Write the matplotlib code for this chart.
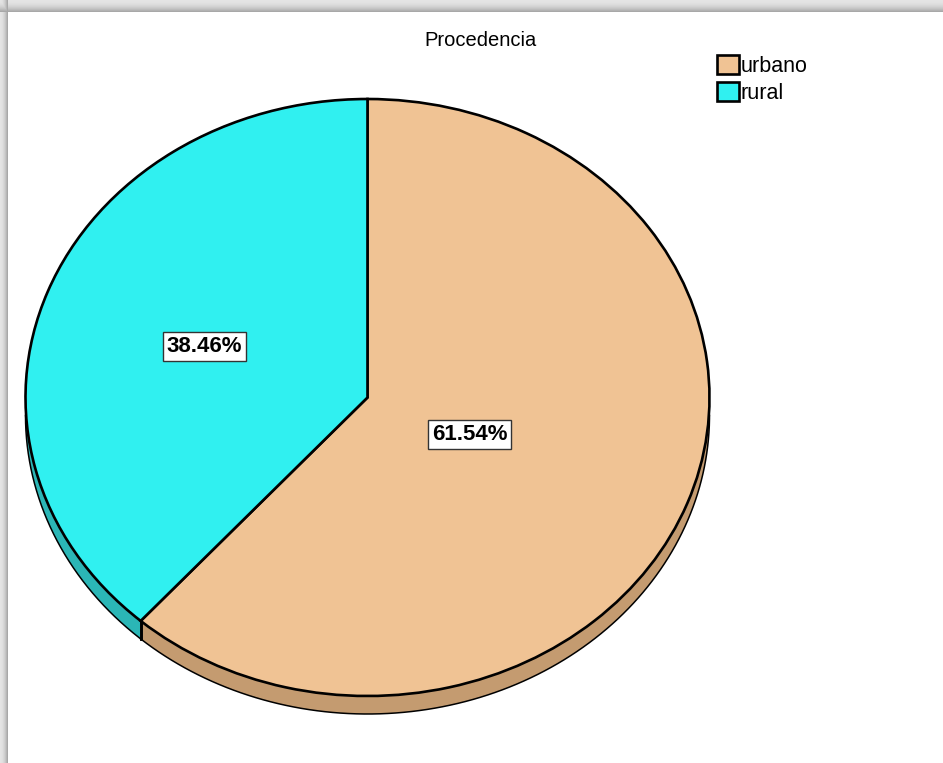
import numpy as np
import matplotlib
matplotlib.use("Agg")
import matplotlib.pyplot as plt
from matplotlib.patches import Polygon

# ---- data ----
categories = ["urbano", "rural"]
values = [61.54, 38.46]
pct_labels = ["61.54%", "38.46%"]
top_colors = ["#F0C394", "#30F0F0"]
side_colors = ["#C49B70", "#2BB6B6"]

W, H = 943, 763
fig = plt.figure(figsize=(W / 100, H / 100), dpi=100)
fig.patch.set_facecolor("white")

# window-like gray shadow border (top and left)
bg = np.ones((H, W, 3))
top_n, left_n = 12, 8
for i in range(top_n):
    v = (228 - (i / (top_n - 1)) ** 2 * 60) / 255
    bg[i, :, :] = v
for j in range(left_n):
    v = (228 - (j / (left_n - 1)) ** 2 * 60) / 255
    bg[:, j, :] = np.minimum(bg[:, j, :], v)
fig.figimage(bg, 0, 0, origin="upper", zorder=-10)

# pie geometry in pixels
cx, cy, rx, ry = 367.5, 397.5, 342.0, 298.5
depth = 18.0 / ry

ax = fig.add_axes([0, 0, 1, 1])
ax.set_zorder(5)
ax.patch.set_visible(False)
wedges, _ = ax.pie(values, colors=top_colors, startangle=90, counterclock=False,
                   wedgeprops=dict(edgecolor="black", linewidth=1.9, zorder=3))
ax.set_aspect("auto")
ax.set_xlim(-cx / rx, (W - cx) / rx)
ax.set_ylim((cy - H) / ry, cy / ry)
ax.axis("off")

# 3D side band (front half)
for w, sc in zip(wedges, side_colors):
    t1, t2 = w.theta1, w.theta2
    for lo, hi in [(-180, 0), (180, 360)]:
        a, b = max(t1, lo), min(t2, hi)
        if b > a:
            t = np.radians(np.linspace(a, b, 200))
            xs = np.cos(t)
            ys = np.sin(t)
            pts = np.concatenate([np.column_stack([xs, ys]),
                                  np.column_stack([xs[::-1], ys[::-1] - depth])])
            ax.add_patch(Polygon(pts, closed=True, facecolor=sc, edgecolor="none", zorder=1))
            ax.plot(xs, ys - depth, color="black", lw=1.1, zorder=2)

# visible vertical edges on the side
for w in wedges:
    for ang in (w.theta1, w.theta2):
        a = ang % 360
        if 180 < a < 360:
            x0, y0 = np.cos(np.radians(a)), np.sin(np.radians(a))
            ax.plot([x0, x0], [y0, y0 - depth], color="black", lw=1.9, zorder=2)

# percentage labels
label_dist = [0.32, 0.51]
for w, lab, d in zip(wedges, pct_labels, label_dist):
    mid = np.radians((w.theta1 + w.theta2) / 2)
    ax.annotate(lab, xy=(d * np.cos(mid), d * np.sin(mid)), xytext=(0, -2.3),
                textcoords="offset points", ha="center", va="center",
                fontsize=16, fontweight="bold", family="Liberation Sans", zorder=5,
                bbox=dict(boxstyle="square,pad=0.17", facecolor="white",
                          edgecolor="#333333", linewidth=1.0))

# title
fig.text(481 / W, 1 - 40 / H, "Procedencia", ha="center", va="center",
         fontsize=14.5, family="Liberation Sans", zorder=6)

# legend
leg = fig.legend(wedges, categories, loc="upper left",
                 bbox_to_anchor=(717 / W, 1 - 55 / H), frameon=False,
                 prop=dict(family="Liberation Sans", size=15.5),
                 handlelength=1.0, handleheight=1.0, handletextpad=0.1,
                 labelspacing=0.22, borderpad=0, borderaxespad=0)
leg.set_zorder(6)

fig.savefig("out.png", dpi=100)
